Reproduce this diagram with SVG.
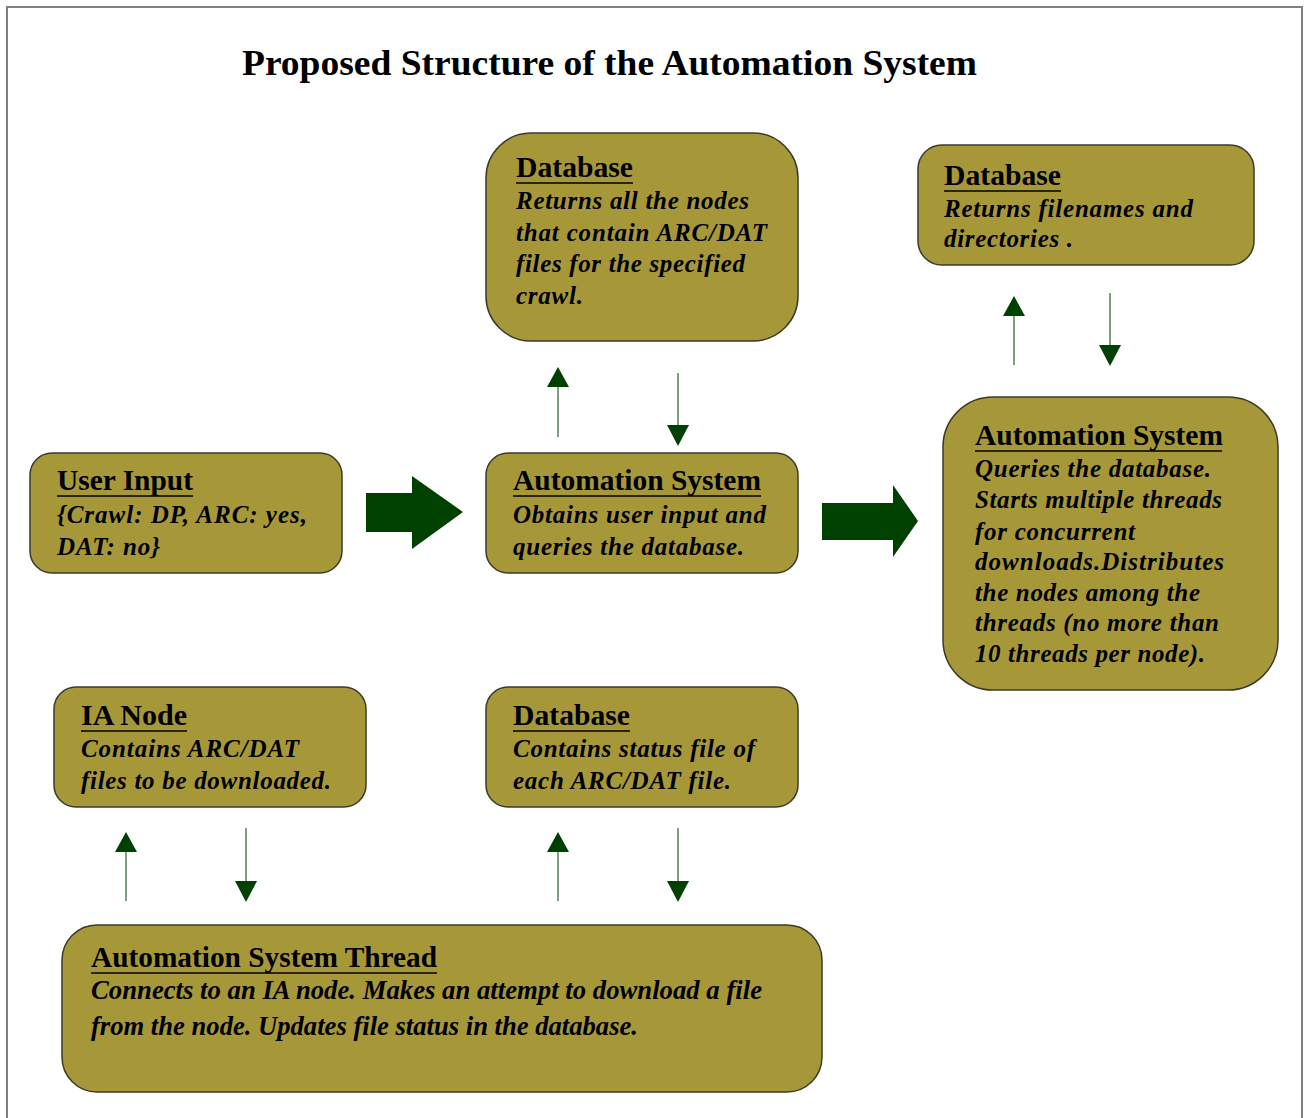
<svg xmlns="http://www.w3.org/2000/svg" width="1308" height="1118" viewBox="0 0 1308 1118">
  <style>
    .box { fill: #A69838; stroke: #3b3a2c; stroke-width: 1.5; }
    .title { font-family: "Liberation Serif", "Times New Roman", serif; font-weight: bold; font-size: 36px; fill: #000; }
    .head { font-family: "Liberation Serif", "Times New Roman", serif; font-weight: bold; font-size: 29px; fill: #000; }
    .body { font-family: "Liberation Serif", "Times New Roman", serif; font-weight: bold; font-style: italic; font-size: 25px; fill: #000; }
    .bodyc { font-family: "Liberation Serif", "Times New Roman", serif; font-weight: bold; font-style: italic; font-size: 27px; fill: #000; }
    .ul { stroke: #000; stroke-width: 1.6; }
    .thin { stroke: #7fa07f; stroke-width: 2; fill: none; }
    .tip { fill: #004000; }
    .fat { fill: #004000; }
  </style>

  <!-- page frame -->
  <rect x="7" y="7" width="1295" height="1130" fill="#fff" stroke="#808080" stroke-width="2"/>

  <text class="title" x="242" y="75" textLength="735" lengthAdjust="spacingAndGlyphs">Proposed Structure of the Automation System</text>

  <!-- Database: nodes for the crawl -->
  <g id="db-nodes">
    <rect class="box" x="486" y="133" width="312" height="208" rx="45"/>
    <text class="head" x="516" y="177" textLength="117" lengthAdjust="spacingAndGlyphs">Database</text>
    <line class="ul" x1="516" y1="183" x2="633" y2="183"/>
    <text class="body" x="516" y="209" textLength="233" lengthAdjust="spacing">Returns all the nodes</text>
    <text class="body" x="516" y="241" textLength="251" lengthAdjust="spacing">that contain ARC/DAT</text>
    <text class="body" x="516" y="272" textLength="229" lengthAdjust="spacing">files for the specified</text>
    <text class="body" x="516" y="304" textLength="67" lengthAdjust="spacing">crawl.</text>
  </g>

  <!-- Database: filenames -->
  <g id="db-files">
    <rect class="box" x="918" y="145" width="336" height="120" rx="24"/>
    <text class="head" x="944" y="185" textLength="117" lengthAdjust="spacingAndGlyphs">Database</text>
    <line class="ul" x1="944" y1="191" x2="1061" y2="191"/>
    <text class="body" x="944" y="217" textLength="249" lengthAdjust="spacing">Returns filenames and</text>
    <text class="body" x="944" y="247" textLength="129" lengthAdjust="spacing">directories .</text>
  </g>

  <!-- User input -->
  <g id="user-input">
    <rect class="box" x="30" y="453" width="312" height="120" rx="22"/>
    <text class="head" x="57" y="490" textLength="136" lengthAdjust="spacingAndGlyphs">User Input</text>
    <line class="ul" x1="57" y1="496" x2="193" y2="496"/>
    <text class="body" x="57" y="523" textLength="250" lengthAdjust="spacing">{Crawl: DP, ARC: yes,</text>
    <text class="body" x="57" y="555" textLength="103" lengthAdjust="spacing">DAT: no}</text>
  </g>

  <!-- Automation system (input stage) -->
  <g id="automation-main">
    <rect class="box" x="486" y="453" width="312" height="120" rx="22"/>
    <text class="head" x="513" y="490" textLength="248" lengthAdjust="spacingAndGlyphs">Automation System</text>
    <line class="ul" x1="513" y1="496" x2="761" y2="496"/>
    <text class="body" x="513" y="523" textLength="253" lengthAdjust="spacing">Obtains user input and</text>
    <text class="body" x="513" y="555" textLength="231" lengthAdjust="spacing">queries the database.</text>
  </g>

  <!-- Automation system (thread dispatch) -->
  <g id="automation-dispatch">
    <rect class="box" x="943" y="397" width="335" height="293" rx="50"/>
    <text class="head" x="975" y="445" textLength="248" lengthAdjust="spacingAndGlyphs">Automation System</text>
    <line class="ul" x1="975" y1="451" x2="1222" y2="451"/>
    <text class="body" x="975" y="477" textLength="236" lengthAdjust="spacing">Queries the database.</text>
    <text class="body" x="975" y="508" textLength="247" lengthAdjust="spacing">Starts multiple threads</text>
    <text class="body" x="975" y="540" textLength="160" lengthAdjust="spacing">for concurrent</text>
    <text class="body" x="975" y="570" textLength="249" lengthAdjust="spacing">downloads.Distributes</text>
    <text class="body" x="975" y="601" textLength="225" lengthAdjust="spacing">the nodes among the</text>
    <text class="body" x="975" y="631" textLength="244" lengthAdjust="spacing">threads (no more than</text>
    <text class="body" x="975" y="662" textLength="230" lengthAdjust="spacing">10 threads per node).</text>
  </g>

  <!-- IA node -->
  <g id="ia-node">
    <rect class="box" x="54" y="687" width="312" height="120" rx="22"/>
    <text class="head" x="81" y="725" textLength="106" lengthAdjust="spacingAndGlyphs">IA Node</text>
    <line class="ul" x1="81" y1="731" x2="187" y2="731"/>
    <text class="body" x="81" y="757" textLength="218" lengthAdjust="spacing">Contains ARC/DAT</text>
    <text class="body" x="81" y="789" textLength="250" lengthAdjust="spacing">files to be downloaded.</text>
  </g>

  <!-- Database: status files -->
  <g id="db-status">
    <rect class="box" x="486" y="687" width="312" height="120" rx="22"/>
    <text class="head" x="513" y="725" textLength="117" lengthAdjust="spacingAndGlyphs">Database</text>
    <line class="ul" x1="513" y1="731" x2="630" y2="731"/>
    <text class="body" x="513" y="757" textLength="242" lengthAdjust="spacing">Contains status file of</text>
    <text class="body" x="513" y="789" textLength="218" lengthAdjust="spacing">each ARC/DAT file.</text>
  </g>

  <!-- Automation system thread -->
  <g id="automation-thread">
    <rect class="box" x="62" y="925" width="760" height="167" rx="35"/>
    <text class="head" x="91" y="967" textLength="346" lengthAdjust="spacingAndGlyphs">Automation System Thread</text>
    <line class="ul" x1="91" y1="973" x2="437" y2="973"/>
    <text class="bodyc" x="91" y="999" textLength="671" lengthAdjust="spacingAndGlyphs">Connects to an IA node. Makes an attempt to download a file</text>
    <text class="bodyc" x="91" y="1035" textLength="547" lengthAdjust="spacingAndGlyphs">from the node. Updates file status in the database.</text>
  </g>

  <!-- connectors -->
  <g id="connectors">
    <!-- block arrows between main stages -->
    <polygon class="fat" points="366,493 412,493 412,476 463,512 412,549 412,532 366,532"/>
    <polygon class="fat" points="822,503 893,503 893,485 918,521 893,557 893,540 822,540"/>

    <!-- automation <-> database (nodes) -->
    <line class="thin" x1="558" y1="437" x2="558" y2="386"/>
    <polygon class="tip" points="558,367 569,387 547,387"/>
    <line class="thin" x1="678" y1="373" x2="678" y2="426"/>
    <polygon class="tip" points="678,446 667,425 689,425"/>

    <!-- dispatch <-> database (files) -->
    <line class="thin" x1="1014" y1="365" x2="1014" y2="315"/>
    <polygon class="tip" points="1014,296 1025,316 1003,316"/>
    <line class="thin" x1="1110" y1="293" x2="1110" y2="346"/>
    <polygon class="tip" points="1110,366 1099,345 1121,345"/>

    <!-- thread <-> IA node -->
    <line class="thin" x1="126" y1="901" x2="126" y2="851"/>
    <polygon class="tip" points="126,832 137,852 115,852"/>
    <line class="thin" x1="246" y1="828" x2="246" y2="882"/>
    <polygon class="tip" points="246,902 235,881 257,881"/>

    <!-- thread <-> database (status) -->
    <line class="thin" x1="558" y1="901" x2="558" y2="851"/>
    <polygon class="tip" points="558,832 569,852 547,852"/>
    <line class="thin" x1="678" y1="828" x2="678" y2="882"/>
    <polygon class="tip" points="678,902 667,881 689,881"/>
  </g>
</svg>
